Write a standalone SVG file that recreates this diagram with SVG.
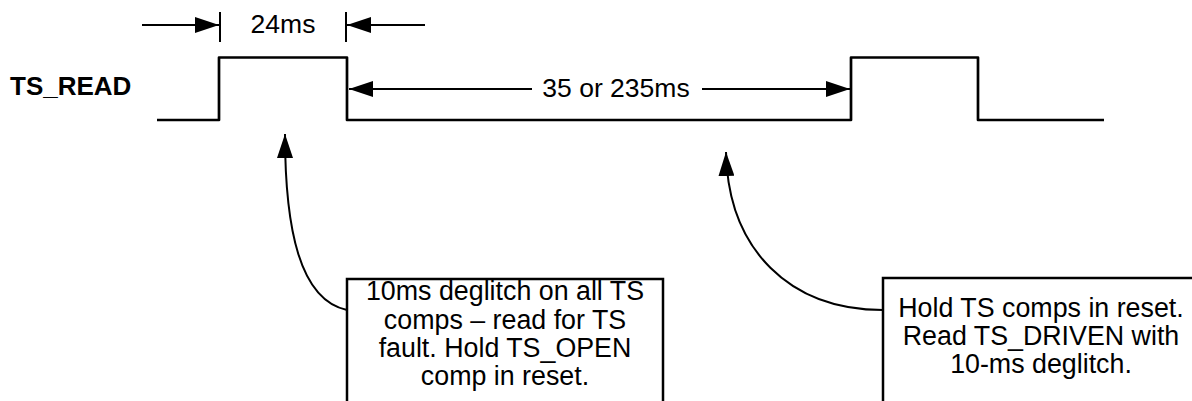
<svg xmlns="http://www.w3.org/2000/svg" width="1192" height="401" viewBox="0 0 1192 401">
<style>
text{font-family:"Liberation Sans",Arial,sans-serif;fill:#000}
.lbl{font-size:26.5px;text-anchor:middle}
.note{font-size:26.8px;text-anchor:middle}
.wave{fill:none;stroke:#000;stroke-width:2.7;stroke-linejoin:round}
.ln{fill:none;stroke:#000;stroke-width:2}
.box{fill:#fff;stroke:#000;stroke-width:2.5}
</style>
<defs>
<marker id="ah" markerUnits="userSpaceOnUse" markerWidth="24" markerHeight="16" refX="24" refY="8" orient="auto">
<path d="M0,0 L24,8 L0,16 z" fill="#000"/>
</marker>
</defs>
<rect width="1192" height="401" fill="#fff"/>
<g id="signal">
<text x="10" y="95" style="font-size:26px;font-weight:bold">TS_READ</text>
<path class="wave" d="M157,120 H219 V57.5 H347 V120 H851 V57.5 H978 V120 H1104"/>
</g>
<g id="connectors">
<line class="ln" x1="220" y1="12" x2="220" y2="42"/>
<line class="ln" x1="346" y1="12" x2="346" y2="42"/>
<line class="ln" x1="142" y1="25" x2="219" y2="25" marker-end="url(#ah)"/>
<line class="ln" x1="425" y1="25" x2="347" y2="25" marker-end="url(#ah)"/>
<line class="ln" x1="532" y1="89" x2="349" y2="89" marker-end="url(#ah)"/>
<line class="ln" x1="702" y1="89" x2="850" y2="89" marker-end="url(#ah)"/>
<path class="ln" d="M347,310 C300,300 285,230 285,134" marker-end="url(#ah)"/>
<path class="ln" d="M883,310 C790,310 728,250 726,152" marker-end="url(#ah)"/>
</g>
<g id="label-24ms"><text class="lbl" x="283" y="33">24ms</text></g>
<g id="label-35ms"><text class="lbl" x="616" y="97">35 or 235ms</text></g>
<g id="note1">
<rect class="box" x="347" y="279" width="316" height="140"/>
<text class="note" x="505" y="300">10ms deglitch on all TS</text>
<text class="note" x="505" y="329">comps – read for TS</text>
<text class="note" x="505" y="357">fault. Hold TS_OPEN</text>
<text class="note" x="505" y="385">comp in reset.</text>
</g>
<g id="note2">
<rect class="box" x="883" y="278" width="330" height="140"/>
<text class="note" x="1041" y="317">Hold TS comps in reset.</text>
<text class="note" x="1041" y="345">Read TS_DRIVEN with</text>
<text class="note" x="1041" y="373">10-ms deglitch.</text>
</g>
</svg>
